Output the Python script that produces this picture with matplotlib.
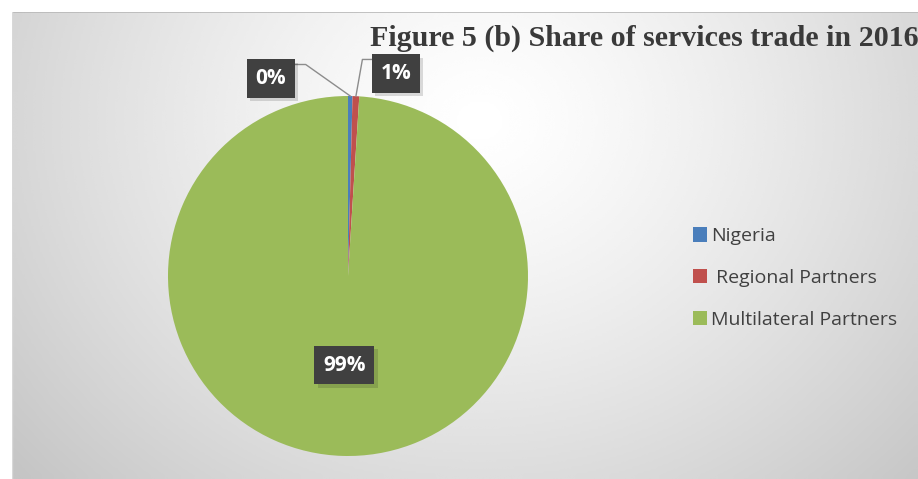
import numpy as np
import matplotlib.pyplot as plt
from matplotlib import patheffects as pe

# data
categories = ["Nigeria", " Regional Partners", "Multilateral Partners"]
shares = [0.4, 0.6, 99.0]
colors = ["#4a7ebb", "#c0504d", "#9bbb59"]
title = "Figure 5 (b) Share of services trade in 2016"

W, H = 918, 479
fig = plt.figure(figsize=(W / 100, H / 100), dpi=100)
fig.patch.set_facecolor("white")

# background panel with a soft radial gradient
bg = fig.add_axes([12 / W, 0, (W - 12) / W, (H - 12) / H])
bg.set_axis_off()
yy, xx = np.mgrid[0:200, 0:400]
px = 12 + xx / 399 * (W - 12)
py = 12 + yy / 199 * (H - 12)
d = np.hypot(px - 480, (py - 120) * 1.15) / 620
shade = 1.0 - 0.23 * np.clip(d, 0, 1) ** 1.3
bg.imshow(shade, cmap="gray", vmin=0, vmax=1, aspect="auto",
          extent=[0, 1, 0, 1], interpolation="bicubic")
bg.plot([0, 1], [1, 1], color="#b8b8b8", lw=1.2, transform=bg.transAxes)
bg.plot([0, 0], [0, 1], color="#d8d8d8", lw=1.0, transform=bg.transAxes)

# pie
cx, cy, r = 348, 276, 180
ax = fig.add_axes([(cx - r) / W, (H - cy - r) / H, 2 * r / W, 2 * r / H])
wedges, _, autotexts = ax.pie(shares, colors=colors, startangle=90,
                              counterclock=False, autopct="%1.0f%%",
                              wedgeprops=dict(linewidth=0))
ax.set_xlim(-1, 1)
ax.set_ylim(-1, 1)
ax.set_aspect("equal")
ax.set_axis_off()

# data labels as dark boxes with leader lines
label_pos = [(-0.43, 1.097), (0.265, 1.125), (-0.02, -0.495)]
elbows = [(-0.235, 1.175), (0.08, 1.203), None]
for w, t, pos, elb in zip(wedges, autotexts, label_pos, elbows):
    t.set_position(pos)
    t.set_color("white")
    t.set_fontsize(15)
    t.set_fontweight("bold")
    t.set_fontfamily("Open Sans")
    t.set_ha("center")
    t.set_va("center")
    t.set_bbox(dict(boxstyle="square,pad=0.42", fc="#404040", ec="none"))
    t.get_bbox_patch().set_path_effects(
        [pe.SimplePatchShadow(offset=(2.5, -2.5), alpha=0.15), pe.Normal()])
    t.set_zorder(3)
    if elb is not None:
        ang = np.deg2rad((w.theta1 + w.theta2) / 2)
        tip = (np.cos(ang), np.sin(ang))
        side = -1 if pos[0] < 0 else 1
        edge_x = pos[0] - side * 0.13
        ax.plot([tip[0], elb[0], edge_x], [tip[1], elb[1], elb[1]],
                color="#8c8c8c", lw=1.0, clip_on=False, zorder=1)

# legend
leg = fig.legend(wedges, categories, loc="center left",
                 bbox_to_anchor=(675 / W, 1 - 278 / H), frameon=False,
                 handlelength=0.75, handleheight=0.75, handletextpad=0.2,
                 labelspacing=1.22,
                 prop=dict(family="Open Sans", size=14))
for txt in leg.get_texts():
    txt.set_color("#404040")

fig.text(370 / W, 1 - 38 / H, title, family="Liberation Serif",
         weight="bold", size=21.6, color="#3a3a3a", ha="left", va="center")

fig.savefig("out.png", dpi=100)
